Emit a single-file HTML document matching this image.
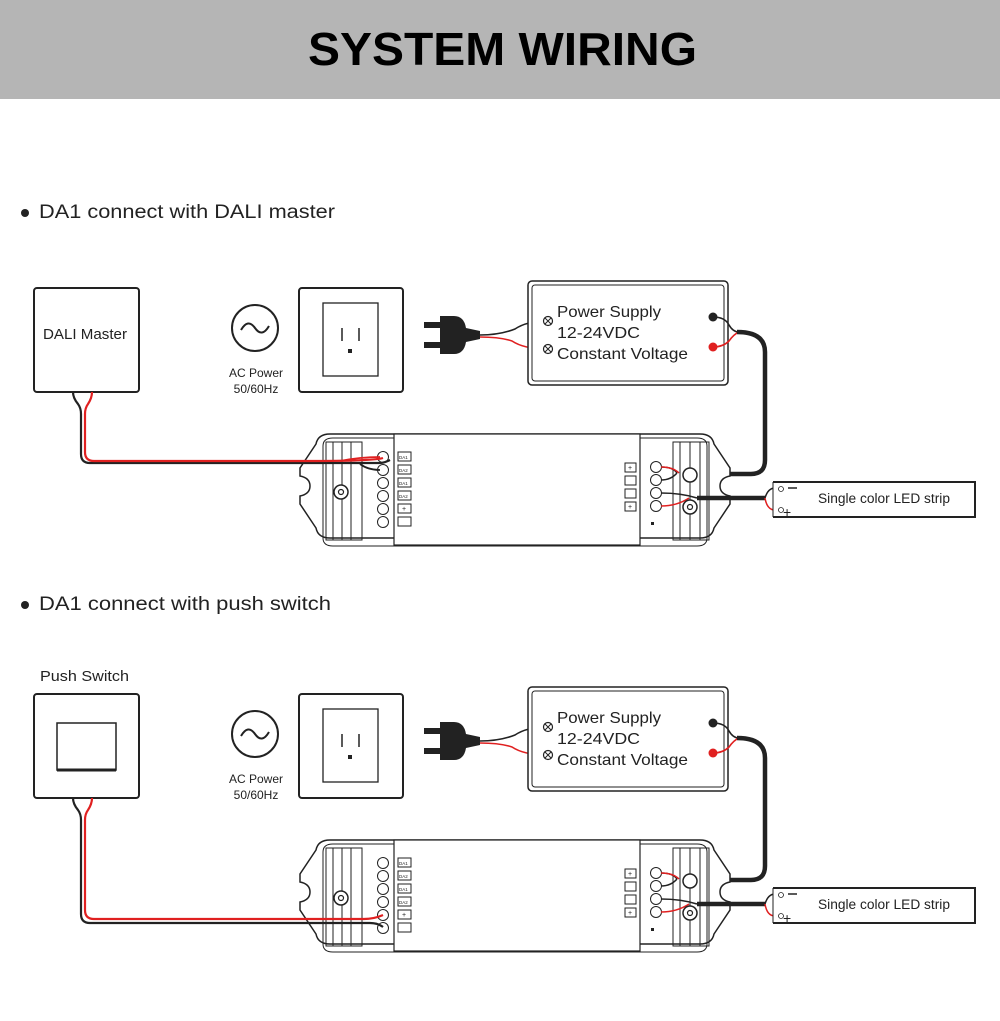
<!DOCTYPE html>
<html><head><meta charset="utf-8"><style>
html,body{margin:0;padding:0;background:#fff}
svg{display:block}
text{font-family:"Liberation Sans",sans-serif;fill:#222}
</style></head><body>
<svg width="1000" height="1021" viewBox="0 0 1000 1021" xmlns="http://www.w3.org/2000/svg">
<defs>
<g id="common">
  <!-- AC symbol -->
  <circle cx="255" cy="328" r="23" fill="none" stroke="#222" stroke-width="2"/>
  <path d="M241 330 q7 -12 14 -2 q7 10 14 -2" fill="none" stroke="#222" stroke-width="2"/>
  <text x="256" y="377" font-size="12" text-anchor="middle">AC Power</text>
  <text x="256" y="393" font-size="12" text-anchor="middle">50/60Hz</text>
  <!-- outlet -->
  <rect x="299" y="288" width="104" height="104" rx="3" fill="#fff" stroke="#222" stroke-width="2"/>
  <rect x="323" y="303" width="55" height="73" fill="none" stroke="#222" stroke-width="1.3"/>
  <line x1="342" y1="328" x2="342" y2="341" stroke="#222" stroke-width="1.5"/>
  <line x1="359" y1="328" x2="359" y2="341" stroke="#222" stroke-width="1.5"/>
  <rect x="348" y="349" width="4" height="4" fill="#222"/>
  <!-- plug -->
  <rect x="424" y="322" width="18" height="6" fill="#222"/>
  <rect x="424" y="342" width="18" height="6" fill="#222"/>
  <path d="M440 316 h14 q10 0 12 12 l14 3 v8 l-14 3 q-2 12 -12 12 h-14 z" fill="#222"/>
  <path d="M480 335 q20 0 35 -6 q12 -8 32 -8" fill="none" stroke="#222" stroke-width="1.6"/>
  <path d="M480 337 q20 0 32 4 q12 8 35 8" fill="none" stroke="#e02020" stroke-width="1.6"/>
  <!-- power supply -->
  <rect x="528" y="281" width="200" height="104" rx="4" fill="#fff" stroke="#222" stroke-width="1.5"/>
  <rect x="532" y="285" width="192" height="96" rx="3" fill="none" stroke="#222" stroke-width="1"/>
  <circle cx="548" cy="321" r="4.5" fill="#fff" stroke="#222" stroke-width="1.2"/>
  <path d="M545 318 l6 6 M551 318 l-6 6" stroke="#222" stroke-width="1"/>
  <circle cx="548" cy="349" r="4.5" fill="#fff" stroke="#222" stroke-width="1.2"/>
  <path d="M545 346 l6 6 M551 346 l-6 6" stroke="#222" stroke-width="1"/>
  <text x="557" y="317" font-size="16" textLength="104" lengthAdjust="spacingAndGlyphs">Power Supply</text>
  <text x="557" y="338" font-size="16" textLength="83" lengthAdjust="spacingAndGlyphs">12-24VDC</text>
  <text x="557" y="359" font-size="16" textLength="131" lengthAdjust="spacingAndGlyphs">Constant Voltage</text>
  <circle cx="713" cy="317" r="4.5" fill="#222"/>
  <circle cx="713" cy="347" r="4.5" fill="#e02020"/>
  <path d="M713 317 q12 0 16 8 q4 7 10 7" fill="none" stroke="#222" stroke-width="1.6"/>
  <path d="M713 347 q10 0 16 -6 q5 -7 10 -9" fill="none" stroke="#e02020" stroke-width="1.6"/>
  <path d="M737 332 q28 0 28 20 v108 q0 14 -14 14 h-61" fill="none" stroke="#222" stroke-width="4.5"/>
  <!-- controller -->
  <path d="M330 434 h370 q12 0 14 10 l16 24 v8 q-10 2 -10 10 q0 8 10 10 v8 l-16 24 q-2 10 -14 10 h-370 q-12 0 -14 -10 l-16 -24 v-8 q10 -2 10 -10 q0 -8 -10 -10 v-8 l16 -24 q2 -10 14 -10 z" fill="#fff" stroke="#222" stroke-width="1.5"/>
  <path d="M333 438 h364 q10 0 10 8 v92 q0 8 -10 8 h-364 q-10 0 -10 -8 v-92 q0 -8 10 -8 z" fill="none" stroke="#222" stroke-width="1"/>
  <rect x="394" y="434" width="246" height="111" fill="#fff" stroke="#222" stroke-width="1.2"/>
  <g stroke="#222" stroke-width="1" fill="none">
    <rect x="326" y="442" width="36" height="98"/>
    <line x1="333" y1="442" x2="333" y2="540"/><line x1="342" y1="442" x2="342" y2="540"/><line x1="351" y1="442" x2="351" y2="540"/>
    <rect x="673" y="442" width="36" height="98"/>
    <line x1="680" y1="442" x2="680" y2="540"/><line x1="690" y1="442" x2="690" y2="540"/><line x1="700" y1="442" x2="700" y2="540"/>
  </g>
  <circle cx="341" cy="492" r="7" fill="#fff" stroke="#222" stroke-width="1.5"/>
  <circle cx="341" cy="492" r="2.5" fill="none" stroke="#222" stroke-width="1.2"/>
  <g fill="#fff" stroke="#222" stroke-width="1">
    <circle cx="383" cy="457" r="5.5"/><circle cx="383" cy="470" r="5.5"/><circle cx="383" cy="483" r="5.5"/>
    <circle cx="383" cy="496" r="5.5"/><circle cx="383" cy="509" r="5.5"/><circle cx="383" cy="522" r="5.5"/>
    <rect x="398" y="452" width="13" height="9"/><rect x="398" y="465" width="13" height="9"/>
    <rect x="398" y="478" width="13" height="9"/><rect x="398" y="491" width="13" height="9"/>
    <rect x="398" y="504" width="13" height="9"/><rect x="398" y="517" width="13" height="9"/>
    <circle cx="656" cy="467" r="5.5"/><circle cx="656" cy="480" r="5.5"/><circle cx="656" cy="493" r="5.5"/><circle cx="656" cy="506" r="5.5"/>
    <rect x="625" y="463" width="11" height="9"/><rect x="625" y="476" width="11" height="9"/>
    <rect x="625" y="489" width="11" height="9"/><rect x="625" y="502" width="11" height="9"/>
  </g>
  <g font-size="4.5"><text x="399" y="459">DA1</text><text x="399" y="472">DA2</text><text x="399" y="485">DA1</text><text x="399" y="498">DA2</text></g>
  <g font-size="7"><text x="402" y="511">+</text><text x="628" y="470">+</text><text x="628" y="509">+</text></g>
  <rect x="651" y="522" width="3" height="3" fill="#222"/>
  <!-- right wires -->
  <path d="M661 467 q12 0 16 6 M661 480 q10 0 16 -7" fill="none" stroke="#222" stroke-width="1.5"/>
  <path d="M661 467 q12 0 18 6" fill="none" stroke="#e02020" stroke-width="1.5"/>
  <path d="M661 493 q20 0 36 5" fill="none" stroke="#222" stroke-width="1.5"/>
  <path d="M661 506 q16 0 28 -8" fill="none" stroke="#e02020" stroke-width="1.5"/>
  <circle cx="690" cy="475" r="7" fill="#fff" stroke="#222" stroke-width="1.5"/>
  <line x1="697" y1="498" x2="765" y2="498" stroke="#222" stroke-width="4.5"/>
  <circle cx="690" cy="507" r="7" fill="#fff" stroke="#222" stroke-width="1.5"/>
  <circle cx="690" cy="507" r="2.5" fill="none" stroke="#222" stroke-width="1.2"/>
  <path d="M765 498 q3 -10 10 -10 h3" fill="none" stroke="#222" stroke-width="1.5"/>
  <path d="M765 498 q2 12 10 12 h3" fill="none" stroke="#e02020" stroke-width="1.5"/>
  <!-- LED strip -->
  <path d="M773 482 h202 v35 h-202" fill="#fff" stroke="#222" stroke-width="2"/>
  <line x1="773" y1="482" x2="773" y2="517" stroke="#222" stroke-width="1"/>
  <circle cx="781" cy="489" r="2.5" fill="#fff" stroke="#222" stroke-width="0.8"/>
  <circle cx="781" cy="510" r="2.5" fill="#fff" stroke="#222" stroke-width="0.8"/>
  <line x1="788" y1="488" x2="797" y2="488" stroke="#222" stroke-width="1.5"/>
  <text x="783" y="517" font-size="14">+</text>
  <text x="818" y="503" font-size="13.5" textLength="132" lengthAdjust="spacingAndGlyphs">Single color LED strip</text>
</g>
</defs>

<rect x="0" y="0" width="1000" height="99" fill="#b5b5b5"/>
<text x="308" y="65" font-size="46" font-weight="bold" textLength="389" lengthAdjust="spacingAndGlyphs" style="fill:#000">SYSTEM WIRING</text>

<!-- Section 1 -->
<circle cx="25" cy="213" r="4" fill="#222"/>
<text x="39" y="218" font-size="19" textLength="296" lengthAdjust="spacingAndGlyphs">DA1 connect with DALI master</text>
<use href="#common"/>
<rect x="34" y="288" width="105" height="104" rx="3" fill="#fff" stroke="#222" stroke-width="2"/>
<text x="43" y="339" font-size="15" textLength="84" lengthAdjust="spacingAndGlyphs">DALI Master</text>
<path d="M73 392 q0 6 5 12 q3 4 3 10 v40 q0 9 9 9 h290 q4 0 10 -3" fill="none" stroke="#222" stroke-width="2.2"/>
<path d="M92 392 q0 6 -4 12 q-3 4 -3 10 v38 q0 9 9 9 h215 q64 0 74 -3" fill="none" stroke="#e02020" stroke-width="2.2"/>
<path d="M380 457 q-20 0 -40 4" fill="none" stroke="#e02020" stroke-width="1.8"/>
<path d="M380 470 q-12 0 -20 -6" fill="none" stroke="#222" stroke-width="1.8"/>

<!-- Section 2 -->
<circle cx="25" cy="605" r="4" fill="#222"/>
<text x="39" y="610" font-size="19" textLength="292" lengthAdjust="spacingAndGlyphs">DA1 connect with push switch</text>
<g transform="translate(0,406)"><use href="#common"/></g>
<text x="40" y="681" font-size="15" textLength="89" lengthAdjust="spacingAndGlyphs">Push Switch</text>
<rect x="34" y="694" width="105" height="104" rx="3" fill="#fff" stroke="#222" stroke-width="2"/>
<rect x="57" y="723" width="59" height="47" fill="#fff" stroke="#222" stroke-width="1.5"/>
<line x1="57" y1="770" x2="116" y2="770" stroke="#222" stroke-width="3"/>
<path d="M73 798 q0 6 5 12 q3 4 3 10 v94 q0 9 9 9 h280 q8 0 13 4" fill="none" stroke="#222" stroke-width="2.2"/>
<path d="M92 798 q0 6 -4 12 q-3 4 -3 10 v90 q0 9 9 9 h270 q10 0 19 -4" fill="none" stroke="#e02020" stroke-width="2.2"/>
</svg>
</body></html>
